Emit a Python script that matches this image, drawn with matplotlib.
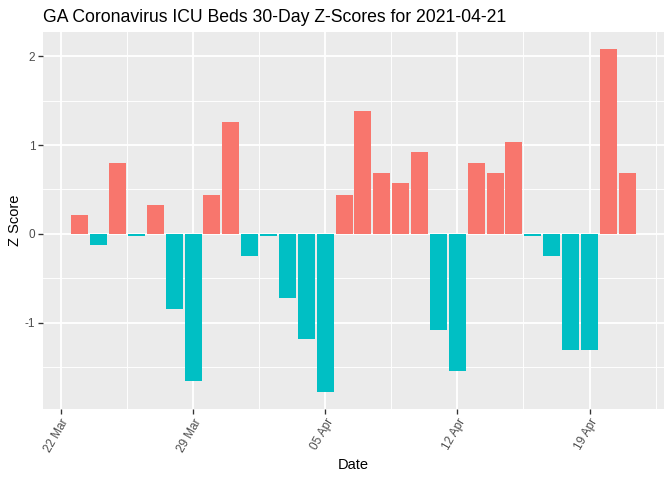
import matplotlib
matplotlib.use("Agg")
import matplotlib.pyplot as plt
import matplotlib.dates as mdates
import numpy as np
import pandas as pd

dates = pd.date_range("2021-03-23", "2021-04-21", freq="D")
zscores = [0.21, -0.13, 0.80, -0.02, 0.33, -0.85, -1.66, 0.44, 1.26, -0.25,
           -0.02, -0.72, -1.19, -1.78, 0.44, 1.38, 0.68, 0.57, 0.92, -1.08,
           -1.55, 0.80, 0.68, 1.03, -0.02, -0.25, -1.31, -1.31, 2.08, 0.68]
title = "GA Coronavirus ICU Beds 30-Day Z-Scores for 2021-04-21"
xlabel = "Date"
ylabel = "Z Score"
major_dates = pd.to_datetime(["2021-03-22", "2021-03-29", "2021-04-05", "2021-04-12", "2021-04-19"])
y_major = [-1, 0, 1, 2]
y_minor = [-1.5, -0.5, 0.5, 1.5]

plt.rcParams['font.family'] = ['Liberation Sans', 'DejaVu Sans']

W, H = 672, 480
fig = plt.figure(figsize=(7, 5), dpi=96)
left, right, top, bottom = 43, 664, 32, 409
ax = fig.add_axes([left / W, 1 - bottom / H, (right - left) / W, (bottom - top) / H])
ax.set_facecolor("#EBEBEB")

xnum = mdates.date2num(dates)
vals = np.array(zscores)
colors = np.where(vals > 0, "#F8766D", "#00BFC4")
ax.bar(xnum, vals, width=0.9, color=colors, zorder=3)

mj = mdates.date2num(major_dates)
ax.set_xticks(mj)
ax.set_xticklabels([d.strftime("%d %b") for d in major_dates], rotation=60,
                   ha="right", va="top", rotation_mode="anchor")
minor_x = list(mj[:-1] + 3.5) + [mj[-1] + 3.5]
ax.set_xticks(minor_x, minor=True)
ax.set_yticks(y_major)
ax.set_yticklabels([str(v) for v in y_major])
ax.set_yticks(y_minor, minor=True)

# ggplot-like expansion (set after ticks so limits are not widened)
xmin, xmax = xnum.min() - 0.45, xnum.max() + 0.45
xr = xmax - xmin
ax.set_xlim(xmin - 0.05 * xr, xmax + 0.05 * xr)
ymin, ymax = min(vals.min(), 0), max(vals.max(), 0)
yr = ymax - ymin
ax.set_ylim(ymin - 0.05 * yr, ymax + 0.05 * yr)

ax.grid(which="major", color="white", linewidth=1.4, zorder=1)
ax.grid(which="minor", color="white", linewidth=0.7, zorder=1)
ax.set_axisbelow(True)
for s in ax.spines.values():
    s.set_visible(False)

ax.tick_params(which="major", length=3.7, width=1.0, color="#333333",
               labelcolor="#4D4D4D", labelsize=8.8, pad=2)
ax.tick_params(which="minor", length=0)

fig.text((left + right) / 2 / W, 1 - 465 / H, xlabel, fontsize=11, ha="center", va="center")
fig.text(15 / W, 1 - ((top + bottom) / 2) / H, ylabel, fontsize=11, rotation=90,
         ha="center", va="center")
fig.text(left / W, 1 - 22 / H, title, fontsize=13.2, ha="left", va="baseline")

fig.savefig("out.png", dpi=96)
